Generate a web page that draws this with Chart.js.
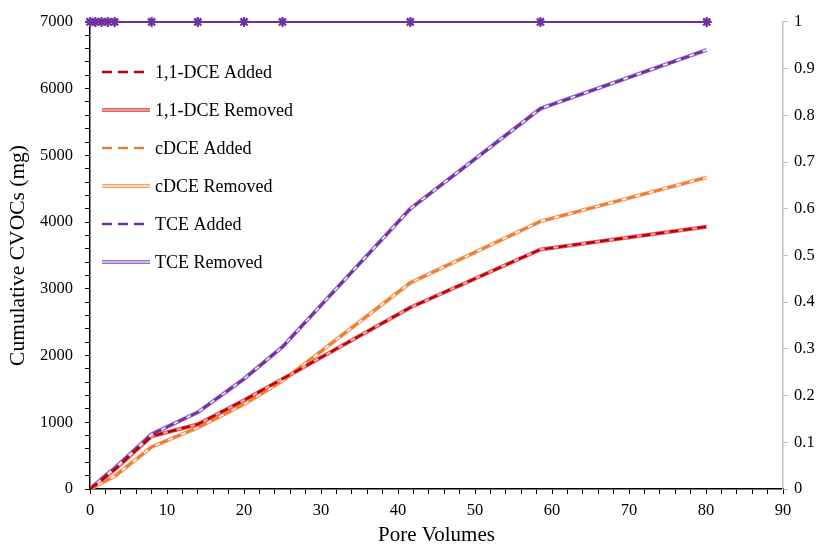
<!DOCTYPE html>
<html>
<head>
<meta charset="utf-8">
<script src="https://cdn.jsdelivr.net/npm/chart.js@4/dist/chart.umd.min.js"></script>
<style>
  html, body { margin: 0; padding: 0; background: #fff; }
  #wrap { width: 819px; height: 548px; position: relative; }
</style>
</head>
<body>
<div id="wrap"><canvas id="cvocChart"></canvas></div>
<script>
// Pore volumes (x) and cumulative mass (mg) per compound
const poreVolumes = [0, 0.7, 1.5, 2.3, 3.2, 8, 14, 20, 25, 41.6, 58.5, 80.1];
const dceAdded    = [0, 60, 130, 210, 290, 790, 970, 1330, 1650, 2720, 3590, 3930];
const dceRemoved  = [0, 60, 130, 210, 290, 790, 970, 1330, 1650, 2720, 3590, 3930];
const cdceAdded   = [0, 40, 90, 140, 190, 630, 920, 1270, 1620, 3090, 4010, 4670];
const cdceRemoved = [0, 40, 90, 140, 190, 630, 920, 1270, 1620, 3090, 4010, 4670];
const tceAdded    = [0, 70, 150, 230, 310, 820, 1150, 1650, 2130, 4200, 5700, 6580];
const tceRemoved  = [0, 70, 150, 230, 310, 820, 1150, 1650, 2130, 4200, 5700, 6580];
// secondary-axis series shown as the star markers along the top
const markerLevel = [1, 1, 1, 1, 1, 1, 1, 1, 1, 1, 1, 1];

const legendLabels = ['1,1-DCE Added', '1,1-DCE Removed', 'cDCE Added', 'cDCE Removed', 'TCE Added', 'TCE Removed'];
const yTicksLeft = [0, 1000, 2000, 3000, 4000, 5000, 6000, 7000];

const SERIF = '"Liberation Serif", "Times New Roman", serif';
const DASH = [9, 5];

function pts(ys) {
    return poreVolumes.map((x, i) => ({ x: x, y: ys[i] }));
}

// line styles, also used by the legend
const styles = [
    { color: '#C00000', width: 2.5, dash: DASH },
    { color: '#E0636B', width: 4, dash: [], inner: '#F6C4C4' },
    { color: '#ED7D31', width: 2.5, dash: DASH },
    { color: '#F4A46E', width: 4, dash: [], inner: '#ffffff' },
    { color: '#7030A0', width: 2.5, dash: DASH },
    { color: '#9B6DC6', width: 4, dash: [], inner: '#ffffff' }
];

function lineSet(data, st, order, yAxis) {
    return {
        data: pts(data),
        borderColor: st.color,
        borderWidth: st.width,
        borderDash: st.dash,
        pointRadius: 0,
        fill: false,
        tension: 0,
        order: order,
        yAxisID: yAxis || 'y'
    };
}

// Draw legend inside plot area like the original
const insideLegend = {
    id: 'insideLegend',
    afterDraw(chart) {
        const ctx = chart.ctx;
        ctx.save();
        ctx.font = '18px ' + SERIF;
        ctx.textBaseline = 'middle';
        ctx.fillStyle = '#000';
        legendLabels.forEach((lab, i) => {
            const st = styles[i];
            const y = 72 + i * 38;
            ctx.lineWidth = st.width;
            ctx.strokeStyle = st.color;
            ctx.setLineDash(st.dash.length ? [10, 6] : []);
            ctx.beginPath();
            ctx.moveTo(102, y);
            ctx.lineTo(150, y);
            ctx.stroke();
            if (st.inner) {
                ctx.setLineDash([]);
                ctx.lineWidth = 1.2;
                ctx.strokeStyle = st.inner;
                ctx.beginPath();
                ctx.moveTo(102, y);
                ctx.lineTo(150, y);
                ctx.stroke();
            }
            ctx.fillText(lab, 155, y + 1);
        });
        ctx.restore();
    }
};

const ctx = document.getElementById('cvocChart').getContext('2d');
new Chart(ctx, {
    type: 'line',
    data: {
        datasets: [
            // removed series: coloured outer line with a light centre
            lineSet(dceRemoved, styles[1], 9),
            lineSet(dceRemoved, { color: styles[1].inner, width: 1.2, dash: [] }, 8),
            lineSet(cdceRemoved, styles[3], 9),
            lineSet(cdceRemoved, { color: styles[3].inner, width: 1.2, dash: [] }, 8),
            lineSet(tceRemoved, styles[5], 9),
            lineSet(tceRemoved, { color: styles[5].inner, width: 1.2, dash: [] }, 8),
            // added series: dashed on top
            lineSet(dceAdded, styles[0], 2),
            lineSet(cdceAdded, styles[2], 2),
            lineSet(tceAdded, styles[4], 2),
            {
                data: pts(markerLevel),
                yAxisID: 'y1',
                borderColor: '#7030A0',
                borderWidth: 2,
                pointStyle: 'star',
                pointRadius: 5,
                pointBorderWidth: 2.2,
                pointBorderColor: '#7030A0',
                pointBackgroundColor: '#7030A0',
                clip: 12,
                order: 1
            }
        ]
    },
    options: {
        responsive: true,
        maintainAspectRatio: false,
        animation: false,
        layout: { padding: { top: 20, right: 0, left: 0, bottom: 0 } },
        plugins: {
            legend: { display: false },
            tooltip: { enabled: false }
        },
        scales: {
            x: {
                type: 'linear',
                min: 0,
                max: 90,
                afterBuildTicks: (s) => {
                    s.ticks = [];
                    for (let v = 0; v <= 90; v += 2) s.ticks.push({ value: v });
                },
                afterFit: (s) => { s.height = 59; },
                grid: { drawOnChartArea: false, color: '#000', tickLength: 5 },
                border: { color: '#000', width: 1.5 },
                ticks: {
                    autoSkip: false,
                    maxRotation: 0,
                    color: '#000',
                    padding: 7,
                    font: { family: SERIF, size: 16.5 },
                    callback: (v) => (v % 10 === 0 ? String(v) : '')
                },
                title: {
                    display: true,
                    text: 'Pore Volumes',
                    color: '#000',
                    font: { family: SERIF, size: 21 },
                    padding: { top: 0, bottom: 0 }
                }
            },
            y: {
                position: 'left',
                min: 0,
                max: 7000,
                afterBuildTicks: (s) => {
                    s.ticks = [];
                    for (let v = 0; v <= 7000; v += 200) s.ticks.push({ value: v });
                },
                afterFit: (s) => { s.width = 90; },
                grid: { drawOnChartArea: false, color: '#000', tickLength: 5 },
                border: { color: '#000', width: 1.5 },
                ticks: {
                    autoSkip: false,
                    color: '#000',
                    padding: 12,
                    font: { family: SERIF, size: 16.5 },
                    callback: (v) => (yTicksLeft.includes(v) ? String(v) : '')
                },
                title: {
                    display: true,
                    text: 'Cumulative CVOCs (mg)',
                    color: '#000',
                    font: { family: SERIF, size: 21.5 },
                    padding: { top: 5, bottom: 0 }
                }
            },
            y1: {
                position: 'right',
                min: 0,
                max: 1,
                afterBuildTicks: (s) => {
                    s.ticks = [];
                    for (let i = 0; i <= 10; i++) s.ticks.push({ value: i / 10 });
                },
                afterFit: (s) => { s.width = 36; },
                grid: { drawOnChartArea: false, color: '#BFBFBF', tickLength: 5 },
                border: { color: '#BFBFBF', width: 1.5 },
                ticks: {
                    autoSkip: false,
                    color: '#000',
                    padding: 6,
                    font: { family: SERIF, size: 16.5 },
                    callback: (v) => String(Math.round(v * 10) / 10)
                }
            }
        }
    },
    plugins: [insideLegend]
});
</script>
</body>
</html>
